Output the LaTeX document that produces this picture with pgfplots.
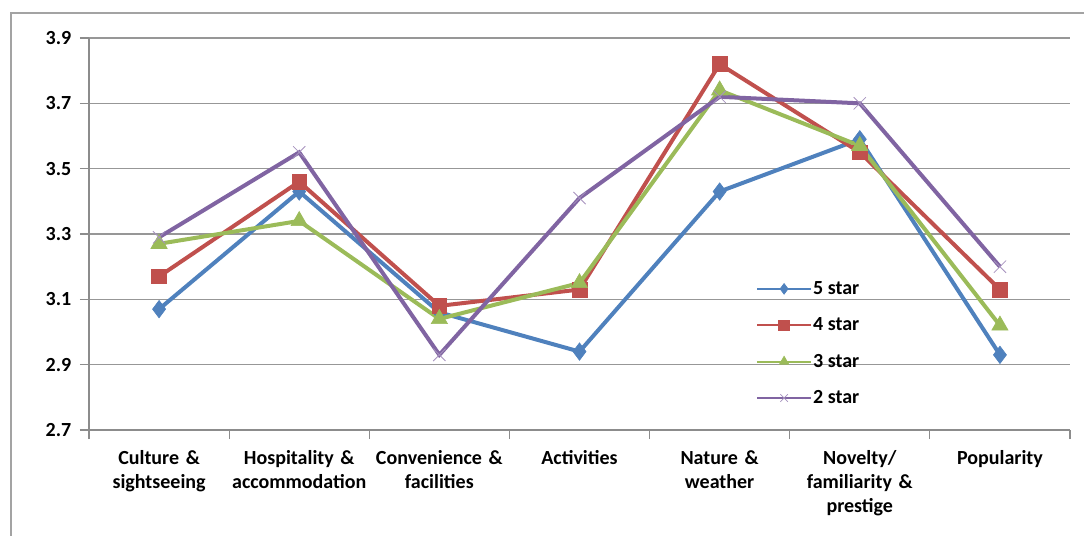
\documentclass[border=0pt]{standalone}
\usepackage{pgfplots}
\pgfplotsset{compat=1.18}
\usepackage{fontspec}
\setmainfont{Carlito}
\definecolor{cblue}{HTML}{4F81BD}
\definecolor{cred}{HTML}{C0504D}
\definecolor{cgreen}{HTML}{9BBB59}
\definecolor{cpurple}{HTML}{8064A2}
\definecolor{gridgray}{HTML}{8C8C8C}
\begin{document}
\begin{tikzpicture}[x=0.75pt,y=0.75pt]
\path[use as bounding box] (0,0) rectangle (1084,535);
\draw[gridgray!80, line width=1.5pt] (11,-10) -- (11,522) -- (1100,522);
\begin{axis}[
    at={(66.75pt,78.75pt)}, anchor=south west,
    scale only axis, width=735.75pt, height=294pt,
    xmin=0.5, xmax=7.5, ymin=2.7, ymax=3.9,
    ytick={2.7,2.9,...,3.9},
    yticklabel style={/pgf/number format/fixed, /pgf/number format/precision=1,
        /pgf/number format/fixed zerofill},
    /pgf/number format/assume math mode=true,
    xtick={1,...,7},
    xticklabels={Culture \&\\sightseeing, Hospitality \&\\accommodation,
        Convenience \&\\facilities, Activities, Nature \&\\weather,
        Novelty/\\familiarity \&\\prestige, Popularity},
    xticklabel style={align=center, text width=108pt, font=\fontsize{15}{18}\selectfont\bfseries, yshift=-5pt},
    yticklabel style={font=\fontsize{15}{18}\selectfont\bfseries, xshift=-3pt},
    major x tick style={draw=none},
    minor xtick={0.5,1.5,...,7.5},
    minor tick length=6.75pt,
    major tick length=6.75pt,
    tick align=outside,
    tick style={gridgray, line width=0.8pt},
    ymajorgrids, grid style={gridgray!90, line width=1pt},
    axis x line*=bottom, axis y line*=left,
    axis line style={gridgray, line width=1pt},
    every axis plot/.append style={line width=3pt},
    legend cell align=left,
    legend style={at={(0.676,0.39)}, anchor=north west, draw=none, fill=none,
        font=\fontsize{15}{18}\selectfont\bfseries, row sep=14pt,
        nodes={inner sep=1pt}},
    legend image code/.code={%
        \draw[line width=1.5pt] (0pt,0pt) -- (40pt,0pt);
        \draw[line width=1.5pt, mark size=4pt] plot coordinates {(20pt,0pt)};},
]
\addplot[cblue, mark=diamond*, mark size=6.5pt, mark options={solid, line width=0.5pt}]
  coordinates {(1,3.07) (2,3.43) (3,3.06) (4,2.94) (5,3.43) (6,3.59) (7,2.93)};
\addplot[cred, mark=square*, mark size=5.5pt, mark options={line width=0.5pt}]
  coordinates {(1,3.17) (2,3.46) (3,3.08) (4,3.13) (5,3.82) (6,3.55) (7,3.13)};
\addplot[cgreen, mark=triangle*, mark size=7pt, mark options={line width=0.5pt}]
  coordinates {(1,3.27) (2,3.34) (3,3.04) (4,3.15) (5,3.74) (6,3.57) (7,3.02)};
\addplot[cpurple, mark=x, mark size=6.5pt, mark options={line width=0.6pt, draw=cpurple!70}]
  coordinates {(1,3.29) (2,3.55) (3,2.93) (4,3.41) (5,3.72) (6,3.70) (7,3.20)};
\legend{5 star, 4 star, 3 star, 2 star}
\end{axis}
\end{tikzpicture}
\end{document}
